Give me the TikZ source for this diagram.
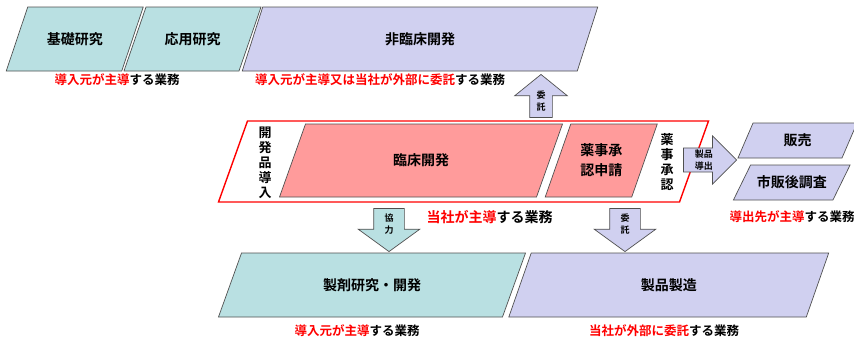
\documentclass[tikz,border=0pt]{standalone}
\usepackage{fontspec}
\setmainfont{Noto Sans CJK JP}[BoldFont=* Bold]
\usetikzlibrary{shapes.arrows}

\definecolor{kenkyu}{RGB}{185,224,226}
\definecolor{itaku}{RGB}{208,208,240}
\definecolor{shudo}{RGB}{255,155,155}
\definecolor{waku}{RGB}{255,0,0}
\definecolor{sen}{RGB}{80,80,80}

\tikzstyle{box} = [draw=sen, line width=0.7pt]
\tikzstyle{boxtext} = [font=\fontsize{14}{20}\selectfont\bfseries, align=center, inner sep=0pt]
\tikzstyle{vtext} = [font=\fontsize{13}{15}\selectfont\bfseries, align=center, inner sep=0pt]
\tikzstyle{gyomu} = [font=\fontsize{12.5}{14}\selectfont\bfseries, inner sep=0pt]
\tikzstyle{blockarrow} = [single arrow, draw=sen, line width=0.7pt, font=\fontsize{9}{12}\selectfont\bfseries, align=center, anchor=tip]

\newcommand{\red}[1]{\textcolor{waku}{#1}}
\newcommand{\parabox}[7]{%
  \draw[box, #6, shift={#2}, xslant=#5] (-#3/2,-#4/2) rectangle (#3/2,#4/2);
  \node[boxtext] (#1) at #2 {#7};
}

\begin{document}
\begin{tikzpicture}[x=1pt, y=-1pt]
    \useasboundingbox (0,0) rectangle (854,338);

    % top row
    \parabox{kiso}{(74.75,39)}{115.5}{64}{0.336}{fill=kenkyu}{基礎研究}
    \parabox{oyo}{(192.5,39)}{115}{64}{0.344}{fill=kenkyu}{応用研究}
    \parabox{hirinsho}{(420,39)}{335}{64}{0.32}{fill=itaku}{非臨床開発}
    \node[gyomu] (g1) at (117,80) {\red{導入元が主導}する業務};
    \node[gyomu] (g2) at (380,80) {\red{導入元が主導又は当社が外部に委託}する業務};

    % middle row
    \parabox{waku}{(463.5,161.5)}{461}{81}{0.358}{draw=waku, line width=1.4pt}{}
    \parabox{rinsho}{(421,160.5)}{257}{73}{0.356}{fill=shudo}{臨床開発}
    \parabox{shinsei}{(601.25,160.5)}{86.5}{73}{0.35}{fill=shudo}{薬事承\\認申請}
    \node[vtext] (donyu) at (265,162.5) {開\\発\\品\\導\\入};
    \node[vtext] (shonin) at (667,162) {薬\\事\\承\\認};
    \node[gyomu, font=\fontsize{14}{16}\selectfont\bfseries] (g3) at (489.5,217) {\red{当社が主導}する業務};

    \parabox{hanbai}{(797.5,140.5)}{104}{35}{0.43}{fill=itaku}{販売}
    \parabox{shihango}{(791.75,182.5)}{99.5}{35}{0.49}{fill=itaku}{市販後調査}
    \node[gyomu] (g4) at (792,217) {\red{導出先が主導}する業務};

    % bottom row
    \parabox{seizai}{(372,285)}{284}{64}{0.36}{fill=kenkyu}{製剤研究・開発}
    \parabox{seizo}{(668.75,285)}{297.5}{64}{0.35}{fill=itaku}{製品製造}
    \node[gyomu] (g5) at (357,331) {\red{導入元が主導}する業務};
    \node[gyomu] (g6) at (664,331) {\red{当社が外部に委託}する業務};

    % arrows
    \node[blockarrow, fill=itaku, shape border rotate=90, minimum height=43pt, minimum width=52pt,
          single arrow head extend=15pt, single arrow tip angle=102, inner xsep=6.5pt, inner ysep=1pt] (itakuA) at (541,74) {委\\託};
    \node[blockarrow, fill=kenkyu, shape border rotate=270, minimum height=43pt, minimum width=61pt,
          single arrow head extend=15.5pt, single arrow tip angle=108, inner xsep=10.5pt, inner ysep=1pt] (kyoryoku) at (389,252) {協\\力};
    \node[blockarrow, fill=itaku, shape border rotate=270, minimum height=43pt, minimum width=61pt,
          single arrow head extend=15.5pt, single arrow tip angle=108, inner xsep=10.5pt, inner ysep=1pt] (itakuB) at (625,252) {委\\託};
    \node[blockarrow, fill=itaku, minimum height=53pt, minimum width=48pt,
          single arrow head extend=11.5pt, single arrow tip angle=90, inner xsep=2pt, inner ysep=1pt] (doshutsu) at (737,160) {製品\\導出};
\end{tikzpicture}
\end{document}
